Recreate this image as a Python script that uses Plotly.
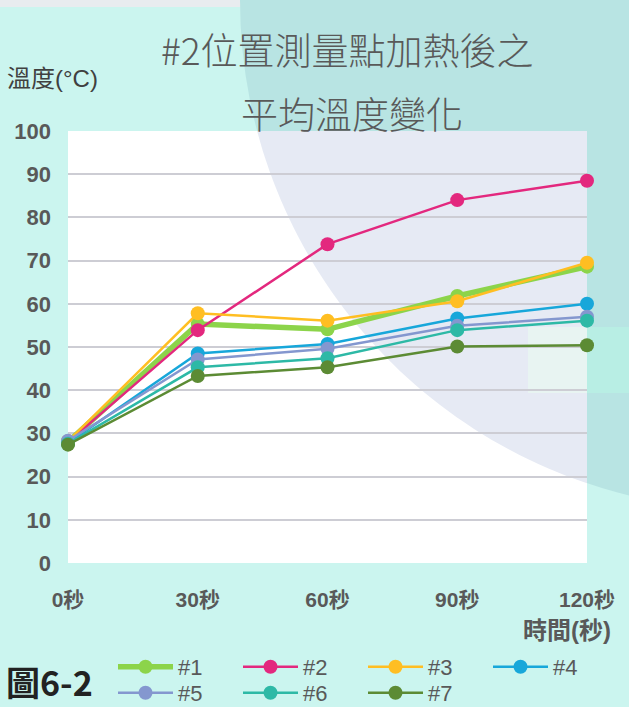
import math
import plotly.graph_objects as go

# Measurement times (category labels on the x axis)
times = ["0秒", "30秒", "60秒", "90秒", "120秒"]

# Average temperature (°C) of each measuring point
s1 = [28.0, 55.3, 54.1, 61.8, 68.6]
s2 = [28.0, 53.9, 73.8, 84.0, 88.5]
s3 = [28.2, 57.8, 56.1, 60.6, 69.5]
s4 = [27.8, 48.5, 50.7, 56.6, 60.0]
s5 = [28.3, 47.1, 49.6, 54.9, 57.0]
s6 = [27.6, 45.3, 47.4, 53.9, 56.1]
s7 = [27.4, 43.3, 45.3, 50.1, 50.4]

names = ["#1", "#2", "#3", "#4", "#5", "#6", "#7"]
series = [s1, s2, s3, s4, s5, s6, s7]
colors = ["#8CD44A", "#E3287E", "#FFBE22", "#17A7DA", "#8497CF", "#2DB9A6", "#5C8B34"]
widths = [5.5, 2.5, 2.5, 2.5, 2.5, 2.5, 2.5]
legend_rows = ["legend", "legend", "legend", "legend", "legend2", "legend2", "legend2"]

y_ticks = list(range(0, 101, 10))

W, H = 629, 707
L, R, T, B = 68, 587, 131, 563


def px_x(p):
    return (p - L) / (R - L)


def px_y(p):
    return (B - p) / (B - T)


fig = go.Figure()
for name, vals, col, w, lg in zip(names, series, colors, widths, legend_rows):
    fig.add_trace(go.Scatter(
        x=times, y=vals, name=name, mode="lines+markers",
        line=dict(color=col, width=w),
        marker=dict(color=col, size=14),
        cliponaxis=False, legend=lg,
    ))

tick_font = dict(family="Liberation Sans, Noto Sans CJK TC", size=21, color="#595959", weight="bold")

fig.update_xaxes(
    type="category", range=[0, 4], showgrid=False, zeroline=False, showline=False,
    ticks="", tickfont=tick_font, ticklabelstandoff=22,
)
fig.update_yaxes(
    range=[0, 100], tickvals=y_ticks, showgrid=True, gridcolor="#CDCDD4", gridwidth=1.5,
    zeroline=False, showline=False, ticks="",
    tickfont=dict(family="Liberation Sans", size=22, color="#595959", weight="bold"),
    ticklabelstandoff=16,
)

# Background seal: a teal disc behind the page, tinted lavender where it
# crosses the white plotting area.
cx, cy, rad = 750, 0, 510
top_hit = cx - math.sqrt(rad ** 2 - (T - cy) ** 2)
right_hit = cy + math.sqrt(rad ** 2 - (R - cx) ** 2)
a0 = math.atan2(right_hit - cy, R - cx)
a1 = math.atan2(T - cy, top_hit - cx)
n = 48
path = "M{:.4f},{:.4f}".format(px_x(top_hit), px_y(T))
path += " L{:.4f},{:.4f}".format(px_x(R), px_y(T))
for i in range(n + 1):
    a = a0 + (a1 - a0) * i / n
    path += " L{:.4f},{:.4f}".format(px_x(cx + rad * math.cos(a)), px_y(cy + rad * math.sin(a)))
path += " Z"

shapes = [
    dict(type="rect", xref="paper", yref="paper", layer="below",
         x0=px_x(0), x1=px_x(W), y0=px_y(7), y1=px_y(0),
         fillcolor="#E8ECEF", line=dict(width=0)),
    dict(type="circle", xref="paper", yref="paper", layer="below",
         x0=px_x(cx - rad), x1=px_x(cx + rad), y0=px_y(cy + rad), y1=px_y(cy - rad),
         fillcolor="#B8E4E3", line=dict(width=0)),
    dict(type="rect", xref="paper", yref="paper", layer="below",
         x0=0, x1=1, y0=0, y1=1, fillcolor="#FFFFFF", line=dict(width=0)),
    dict(type="path", xref="paper", yref="paper", layer="below", path=path,
         fillcolor="#E6EAF4", line=dict(width=0)),
    # pale patch on the right edge
    dict(type="rect", xref="paper", yref="paper", layer="below",
         x0=px_x(528), x1=1, y0=px_y(393), y1=px_y(327),
         fillcolor="#E8F4F2", line=dict(width=0)),
    dict(type="rect", xref="paper", yref="paper", layer="below",
         x0=1, x1=px_x(W), y0=px_y(393), y1=px_y(327),
         fillcolor="#B8EEE4", line=dict(width=0)),
]

title_font = dict(family="Noto Sans CJK TC", size=37, color="#595959", weight=300)
annotations = [
    dict(text="#2位置測量點加熱後之", x=px_x(347), y=px_y(49), xref="paper", yref="paper",
         showarrow=False, font=title_font, xanchor="center", yanchor="middle"),
    dict(text="平均溫度變化", x=px_x(352), y=px_y(113), xref="paper", yref="paper",
         showarrow=False, font=title_font, xanchor="center", yanchor="middle"),
    dict(text="溫度(°C)", x=px_x(5), y=px_y(79), xref="paper", yref="paper",
         showarrow=False, xanchor="left", yanchor="middle",
         font=dict(family="Liberation Sans, Noto Sans CJK TC", size=24, color="#404040")),
    dict(text="時間(秒)", x=px_x(613), y=px_y(630), xref="paper", yref="paper",
         showarrow=False, xanchor="right", yanchor="middle",
         font=dict(family="Liberation Sans, Noto Sans CJK TC", size=24, color="#595959", weight="bold")),
    dict(text="圖6-2", x=px_x(4), y=px_y(681), xref="paper", yref="paper",
         showarrow=False, xanchor="left", yanchor="middle",
         font=dict(family="Noto Sans CJK TC", size=34, color="#222222", weight="bold")),
]

legend_common = dict(
    orientation="h", xanchor="left", yanchor="middle",
    entrywidth=55, entrywidthmode="pixels", itemwidth=55,
    bgcolor="rgba(0,0,0,0)", tracegroupgap=0,
    font=dict(family="Liberation Sans", size=22, color="#595959"),
)

fig.update_layout(
    width=W, height=H,
    margin=dict(l=L, r=W - R, t=T, b=H - B, pad=0, autoexpand=False),
    paper_bgcolor="#CBF5EF", plot_bgcolor="rgba(0,0,0,0)",
    shapes=shapes, annotations=annotations,
    showlegend=True,
    legend=dict(x=px_x(113), y=px_y(667), **legend_common),
    legend2=dict(x=px_x(113), y=px_y(693), **legend_common),
)

fig.write_html("out.html")
